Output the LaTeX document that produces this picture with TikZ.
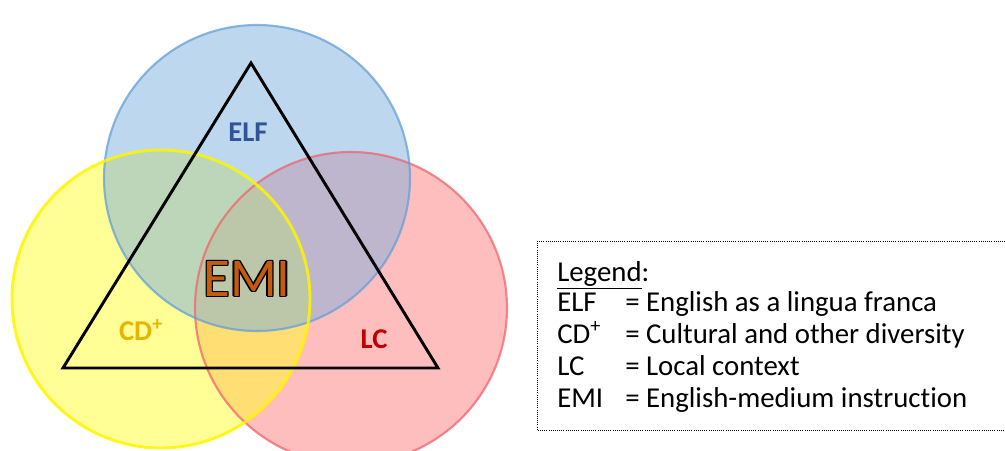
\documentclass[tikz,border=0pt]{standalone}
\usepackage{fontspec}
\setmainfont{Carlito}[Ligatures={NoCommon}]
\begin{document}
\begin{tikzpicture}[x=0.75pt,y=-0.75pt,
  vennfill/.style={fill opacity=0.5},
  venndraw/.style={line width=1.6pt, draw opacity=0.75},
  lbl/.style={font=\fontsize{21.5}{24}\selectfont\bfseries, inner sep=0pt},
  leg/.style={anchor=base west, inner sep=0pt, font=\fontsize{21.6}{24}\selectfont},
  emitext/.style={inner sep=0pt, font=\fontsize{41}{44}\selectfont}
]
\definecolor{cBlueF}{RGB}{123,175,221}
\definecolor{cBlueD}{RGB}{100,160,215}
\definecolor{cYelF}{RGB}{255,255,45}
\definecolor{cYelD}{RGB}{255,245,0}
\definecolor{cRedF}{RGB}{255,125,125}
\definecolor{cRedD}{RGB}{240,100,110}
\definecolor{cElf}{RGB}{47,85,151}
\definecolor{cCd}{RGB}{232,180,0}
\definecolor{cLc}{RGB}{192,0,0}
\definecolor{cEmi}{RGB}{197,90,17}
\useasboundingbox (0,0) rectangle (1005,450);
\begin{scope}
\clip (0,0) rectangle (1005,450);
\fill[cRedF, vennfill] (351,308) circle[radius=156];
\fill[cYelF, vennfill] (161,299) circle[radius=149];
\fill[cBlueF, vennfill] (257,178) circle[radius=153];
\draw[cRedD, venndraw] (351,308) circle[radius=156];
\draw[cBlueD, venndraw] (257,178) circle[radius=153];
\draw[cYelD, venndraw, line width=2.2pt, draw opacity=0.85] (161,299) circle[radius=149];
\end{scope}
% triangle
\coordinate (apex) at (251,63);
\coordinate (bl) at (63,368);
\coordinate (br) at (438,368);
\draw[line width=2.2pt, line join=miter] (apex) -- (bl) -- (br) -- cycle;
% labels
\node[lbl, text=cElf] (elf) at (248,132) {ELF};
\node[lbl, text=cCd] (cd) at (141,330) {CD\textsuperscript{+}};
\node[lbl, text=cLc] (lc) at (374,339) {LC};
% EMI outlined
\foreach \dx/\dy in {-1.3/0,1.3/0,0/-1.3,0/1.3,-1/-1,1/1,-1/1,1/-1}{
  \node[emitext, text=black] at (247+\dx,279+\dy) {EMI};
}
\node[emitext, text=cEmi] (emi) at (247,279) {EMI};
% legend
\draw[densely dotted, line width=0.6pt] (537,241) -- (1005,241);
\draw[densely dotted, line width=0.6pt] (537,241) -- (537,430) -- (1005,430);
\node[leg] (lgd) at (557,281) {\underline{Legend}:};
\node[leg] (l1a) at (557,311) {ELF};
\node[leg] (l1b) at (625,311) {= English as a lingua franca};
\node[leg] (l2a) at (557,343) {CD\textsuperscript{+}};
\node[leg] (l2b) at (625,343) {= Cultural and other diversity};
\node[leg] (l3a) at (557,375) {LC};
\node[leg] (l3b) at (625,375) {= Local context};
\node[leg] (l4a) at (557,407) {EMI};
\node[leg] (l4b) at (625,407) {= English-medium instruction};
\end{tikzpicture}
\end{document}
